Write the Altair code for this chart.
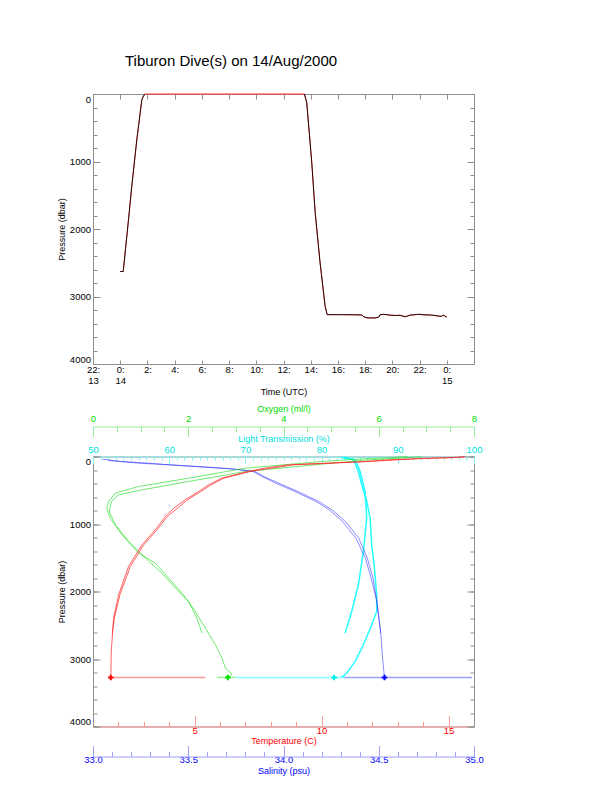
import altair as alt
import pandas as pd

FONT = "Liberation Sans"
GRAY = "#8f8f8f"
RED, RED_LIGHT = "#ff0000", "#ff9a9a"
GREEN, GREEN_LIGHT = "#00dd00", "#99ee99"
CYAN, CYAN_LIGHT = "#00e0e0", "#88f0f0"
BLUE, BLUE_LIGHT = "#0000ff", "#a0a0ff"

TITLE = "Tiburon Dive(s) on 14/Aug/2000"

# ---------------- top panel: pressure vs time (hours after 00:00 UTC 14 Aug) ----------------
ascent_time = [0.00, 0.22, 0.61, 0.85, 1.22, 1.59, 1.71, 1.83]
ascent_pres = [2630, 2630, 1862, 1368, 677, 84, 30, 0]
surface_time = [1.83, 13.54]
surface_pres = [0, 0]
descent_time = [13.54, 13.71, 14.08, 14.33, 14.69, 15.06, 15.21]
descent_pres = [0, 133, 1022, 1762, 2503, 3145, 3269]
bottom_time = [15.21, 16.28, 17.27, 17.75, 17.90, 18.12, 18.74, 19.00, 19.10, 19.35, 19.84, 20.21,
               20.57, 20.94, 21.10, 21.31, 21.92, 22.41, 22.89, 23.39, 23.60, 23.75, 24.00]
bottom_pres = [3269, 3269, 3271, 3274, 3300, 3316, 3318, 3305, 3270, 3264, 3276, 3281,
               3279, 3300, 3290, 3276, 3264, 3272, 3275, 3290, 3294, 3276, 3306]

time_ticks = [-2, 0, 2, 4, 6, 8, 10, 12, 14, 16, 18, 20, 22, 24]
p_major = [0, 1000, 2000, 3000, 4000]
p_minor = list(range(0, 4001, 200))

# ---------------- bottom panel: profiles vs pressure ----------------
# temperature (C): descent cast (to bottom) and ascent cast (from 2630 dbar)
T_down_p = [3, 15, 30, 50, 74, 123, 170, 222, 321, 420, 518, 641, 760, 889, 1086, 1308, 1629, 2048, 2395, 2888, 3273]
T_down_v = [15.6, 15.2, 13.8, 12.6, 11.7, 8.7, 7.8, 7.1, 6.07, 5.55, 5.16, 4.63, 4.2, 3.85, 3.45, 2.93, 2.40, 2.01, 1.81, 1.72, 1.70]
T_up_p = [2617, 2395, 2048, 1629, 1308, 1086, 889, 641, 518, 420, 321, 222, 123, 74, 50, 30, 15, 3]
T_up_v = [1.76, 1.84, 2.06, 2.47, 3.00, 3.52, 3.93, 4.72, 5.25, 5.65, 6.15, 7.2, 8.9, 11.9, 12.9, 14.0, 15.3, 15.7]

# oxygen (ml/l)
O_down_p = [3, 20, 40, 74, 173, 321, 444, 543, 666, 766, 914, 1160, 1432, 1580, 1802, 2025, 2296, 2543, 2789, 2987, 3135, 3224, 3273]
O_down_v = [6.6, 6.2, 5.5, 4.80, 3.20, 2.01, 0.96, 0.47, 0.33, 0.29, 0.36, 0.61, 0.96, 1.31, 1.59, 1.87, 2.15, 2.36, 2.57, 2.71, 2.78, 2.92, 2.83]
O_up_p = [2617, 2395, 2148, 1950, 1752, 1506, 1259, 1012, 815, 666, 568, 494, 370, 222, 114, 60, 30, 3]
O_up_v = [2.29, 2.18, 2.01, 1.73, 1.48, 1.10, 0.75, 0.47, 0.34, 0.39, 0.54, 1.03, 2.01, 3.20, 4.80, 5.6, 6.3, 6.9]

# salinity (psu)
S_down_p = [40, 74, 100, 123, 150, 190, 222, 300, 395, 518, 666, 790, 963, 1210, 1506, 1802, 2148, 2592, 2987, 3273]
S_down_v = [33.05, 33.15, 33.3, 33.4, 33.55, 33.75, 33.84, 33.89, 33.96, 34.06, 34.17, 34.24, 34.31, 34.38, 34.43, 34.46, 34.49, 34.51, 34.52, 34.53]
S_up_p = [2617, 2148, 1802, 1506, 1210, 963, 790, 666, 518, 395, 300, 222, 180, 140, 100, 60]
S_up_v = [34.51, 34.49, 34.47, 34.44, 34.395, 34.325, 34.255, 34.185, 34.075, 33.975, 33.90, 33.85, 33.72, 33.5, 33.25, 33.08]

# light transmission (%)
L_down_p = [10, 49, 222, 419, 666, 914, 1308, 1654, 2048, 2296, 2493, 2789, 3036, 3209, 3273]
L_down_v = [82.5, 84.18, 84.83, 85.27, 85.92, 86.37, 86.58, 86.93, 87.23, 87.23, 86.58, 85.49, 84.40, 83.30, 82.64]
L_up_p = [2617, 2296, 1900, 1407, 914, 518, 222, 49, 10]
L_up_v = [83.09, 83.95, 84.83, 85.49, 85.92, 85.71, 85.06, 84.40, 83.0]

# values scattered while sitting on the bottom, and the bottom mean (cross)
bottom_p = 3273
T_bot_lo, T_bot_hi, T_bot = 1.70, 5.42, 1.70
O_bot_lo, O_bot_hi, O_bot = 2.60, 2.99, 2.83
L_bot_lo, L_bot_hi, L_bot = 68.7, 83.1, 81.64
S_bot_lo, S_bot_hi, S_bot = 34.32, 34.99, 34.53

temp_major = [5, 10, 15]
temp_minor = [2, 3, 4, 6, 7, 8, 9, 11, 12, 13, 14]
sal_major = [33.0, 33.5, 34.0, 34.5, 35.0]
sal_minor = [33.1, 33.2, 33.3, 33.4, 33.6, 33.7, 33.8, 33.9, 34.1, 34.2, 34.3, 34.4, 34.6, 34.7, 34.8, 34.9]
oxy_major = [0, 2, 4, 6, 8]
oxy_minor = [0.5, 1, 1.5, 2.5, 3, 3.5, 4.5, 5, 5.5, 6.5, 7, 7.5]
lt_major = [50, 60, 70, 80, 90, 100]
lt_minor = [v for v in range(51, 100) if v % 10 != 0]

# ---------------- frames ----------------
dive = pd.DataFrame({
    "t": ascent_time + surface_time + descent_time + bottom_time,
    "p": ascent_pres + surface_pres + descent_pres + bottom_pres,
    "seg": ["ascent"] * len(ascent_time) + ["surface"] * len(surface_time)
           + ["descent"] * len(descent_time) + ["bottom"] * len(bottom_time),
    "part": ["up"] * len(ascent_time) + ["s"] * len(surface_time)
            + ["down"] * (len(descent_time) + len(bottom_time)),
})


def prof(dp, dv, up, uv):
    n1, n2 = len(dp), len(up)
    return pd.DataFrame({"P": dp + up, "v": dv + uv,
                         "cast": ["down"] * n1 + ["up"] * n2,
                         "i": list(range(n1 + n2))})


temp_df = prof(T_down_p, T_down_v, T_up_p, T_up_v)
oxy_df = prof(O_down_p, O_down_v, O_up_p, O_up_v)
sal_df = prof(S_down_p, S_down_v, S_up_p, S_up_v)
lt_df = prof(L_down_p, L_down_v, L_up_p, L_up_v)


def bot_df(lo, hi, v):
    return pd.DataFrame({"lo": [lo], "hi": [hi], "v": [v], "P": [bottom_p]})


# ---------------- axes helpers ----------------
pscale = alt.Scale(domain=[0, 4000], reverse=True, nice=False, zero=False)


def tick_axis(orient, values, size, color=GRAY, base=0):
    return alt.Axis(orient=orient, values=values, ticks=True, tickSize=size, tickColor=color,
                    tickWidth=1, offset=base - size, labels=False, domain=False, title=None, grid=False)


def p_label_axis():
    return alt.Axis(orient="left", values=p_major, format="d", ticks=False, tickSize=0, domain=False,
                    labelFlush=True, labelPadding=2.5, labelColor="black", labelFontSize=9.5,
                    title="Pressure (dbar)", titlePadding=3, titleFontSize=9, titleColor="black")


def label_axis(orient, values, color, title, label_pad, title_pad, offset=0, fmt=None, dcolor=None,
               domain=True, expr=None, line_height=None):
    kw = dict(orient=orient, values=values, ticks=False, tickSize=0, domain=domain,
              labelFlush=False, labelOverlap=False, labelPadding=label_pad, labelColor=color,
              labelFontSize=9.5, title=title, titleColor=color, titleFontSize=9,
              titlePadding=title_pad, offset=offset, grid=False)
    if dcolor:
        kw["domainColor"] = dcolor
    if fmt:
        kw["format"] = fmt
    if expr:
        kw["labelExpr"] = expr
    if line_height:
        kw["labelLineHeight"] = line_height
    return alt.Axis(**kw)


# ---------------- top chart ----------------
tscale = alt.Scale(domain=[-2, 26], nice=False, zero=False)
time_expr = ("datum.value == -2 ? ['22:', '13'] : datum.value == 0 ? ['0:', '14'] : "
             "datum.value == 24 ? ['0:', '15'] : [datum.value + ':', '']")
time_axis = label_axis("bottom", time_ticks, "black", "Time (UTC)", 0.5, 2, domain=False,
                       expr=time_expr, line_height=11)

top_red = alt.Chart(dive).mark_line(color="#ff3030", strokeWidth=1).encode(
    x=alt.X("t:Q", scale=tscale, axis=time_axis),
    y=alt.Y("p:Q", scale=pscale, axis=p_label_axis()))
top_black = alt.Chart(dive).transform_filter("datum.seg != 'surface'").mark_line(
    color="black", strokeWidth=1, opacity=0.85).encode(
    x=alt.X("t:Q", scale=tscale, axis=tick_axis("bottom", time_ticks, 4)),
    y=alt.Y("p:Q", scale=pscale, axis=tick_axis("left", p_major, 7)),
    detail="part:N")
top_inv1 = alt.Chart(dive).mark_point(opacity=0).encode(
    x=alt.X("t:Q", scale=tscale, axis=tick_axis("top", time_ticks, 5)),
    y=alt.Y("p:Q", scale=pscale, axis=tick_axis("left", p_minor, 4)))
top_inv2 = alt.Chart(dive).mark_point(opacity=0).encode(
    x=alt.X("t:Q", scale=tscale, axis=None),
    y=alt.Y("p:Q", scale=pscale, axis=tick_axis("right", p_major, 7)))
top_inv3 = alt.Chart(dive).mark_point(opacity=0).encode(
    x=alt.X("t:Q", scale=tscale, axis=None),
    y=alt.Y("p:Q", scale=pscale, axis=tick_axis("right", p_minor, 4)))

top = alt.layer(top_red, top_black, top_inv1, top_inv2, top_inv3).resolve_scale(
    x="independent", y="independent").properties(
    width=381, height=270,
    title=alt.TitleParams(TITLE, anchor="start", frame="group", dx=32, offset=10,
                          baseline="alphabetic", fontSize=15, fontWeight="normal",
                          font=FONT, color="black"))

# ---------------- bottom chart ----------------
cross = "M-1,0L1,0M0,-1L0,1"


def variable_layers(df, bdf, scale, line_color, line_opacity, line_width, mark_color,
                    lab_axis, major_axis, minor_axis, y_axes):
    line = alt.Chart(df).mark_line(color=line_color, opacity=line_opacity, strokeWidth=line_width).encode(
        x=alt.X("v:Q", scale=scale, axis=lab_axis),
        y=alt.Y("P:Q", scale=pscale, axis=y_axes[0]),
        detail="cast:N", order="i:Q")
    rule = alt.Chart(bdf).mark_rule(color=line_color, opacity=0.45, strokeWidth=1.5).encode(
        x=alt.X("lo:Q", scale=scale, axis=major_axis), x2="hi:Q",
        y=alt.Y("P:Q", scale=pscale, axis=y_axes[1]))
    pt = alt.Chart(bdf).mark_point(shape=cross, filled=False, strokeWidth=2, size=30,
                                   color=mark_color, opacity=1).encode(
        x=alt.X("v:Q", scale=scale, axis=minor_axis),
        y=alt.Y("P:Q", scale=pscale, axis=y_axes[2]))
    return [line, rule, pt]


temp_scale = alt.Scale(domain=[1, 16], nice=False, zero=False)
sal_scale = alt.Scale(domain=[33, 35], nice=False, zero=False)
oxy_scale = alt.Scale(domain=[0, 8], nice=False, zero=False)
lt_scale = alt.Scale(domain=[50, 100], nice=False, zero=False)

lt_layers = variable_layers(
    lt_df, bot_df(L_bot_lo, L_bot_hi, L_bot), lt_scale, "#00ffff", 0.85, 1.5, "#00e8e8",
    label_axis("top", lt_major, CYAN, "Light Transmission (%)", 2.5, 0.5, dcolor=CYAN_LIGHT),
    tick_axis("top", lt_major, 7, CYAN_LIGHT), tick_axis("top", lt_minor, 3.5, CYAN_LIGHT),
    [None, None, None])
sal_layers = variable_layers(
    sal_df, bot_df(S_bot_lo, S_bot_hi, S_bot), sal_scale, "#2a2aff", 0.55, 1, BLUE,
    label_axis("bottom", sal_major, BLUE, "Salinity (psu)", -1.8, 2, offset=30, fmt=".1f",
               dcolor=BLUE_LIGHT),
    tick_axis("bottom", sal_major, 11, BLUE_LIGHT, base=30),
    tick_axis("bottom", sal_minor, 5, BLUE_LIGHT, base=30),
    [tick_axis("right", p_major, 7), tick_axis("right", p_minor, 4), None])
oxy_layers = variable_layers(
    oxy_df, bot_df(O_bot_lo, O_bot_hi, O_bot), oxy_scale, "#22dd22", 0.65, 1, "#00dd00",
    label_axis("top", oxy_major, GREEN, "Oxygen (ml/l)", 3.3, 0, offset=30, dcolor=GREEN_LIGHT),
    tick_axis("top", oxy_major, 10, GREEN_LIGHT, base=30),
    tick_axis("top", oxy_minor, 5, GREEN_LIGHT, base=30),
    [None, None, None])
temp_layers = variable_layers(
    temp_df, bot_df(T_bot_lo, T_bot_hi, T_bot), temp_scale, "#ff2020", 0.7, 1, RED,
    label_axis("bottom", temp_major, RED, "Temperature (C)", -1.5, 2, dcolor=RED_LIGHT),
    tick_axis("bottom", temp_major, 11, RED_LIGHT), tick_axis("bottom", temp_minor, 5, RED_LIGHT),
    [p_label_axis(), tick_axis("left", p_major, 7), tick_axis("left", p_minor, 4)])

bottom = alt.layer(*(lt_layers + sal_layers + oxy_layers + temp_layers)).resolve_scale(
    x="independent", y="independent").properties(width=381, height=270)

chart = alt.vconcat(top, bottom, spacing=6.5).properties(
    padding={"left": 48, "top": 45, "right": 10, "bottom": 5}
).configure_view(stroke=GRAY, strokeWidth=1).configure_axis(
    grid=False, labelFont=FONT, titleFont=FONT, titleFontWeight="normal",
    labelFontSize=9.5, titleFontSize=9)

chart.save("out.html", embed_options={"renderer": "svg", "actions": False})
